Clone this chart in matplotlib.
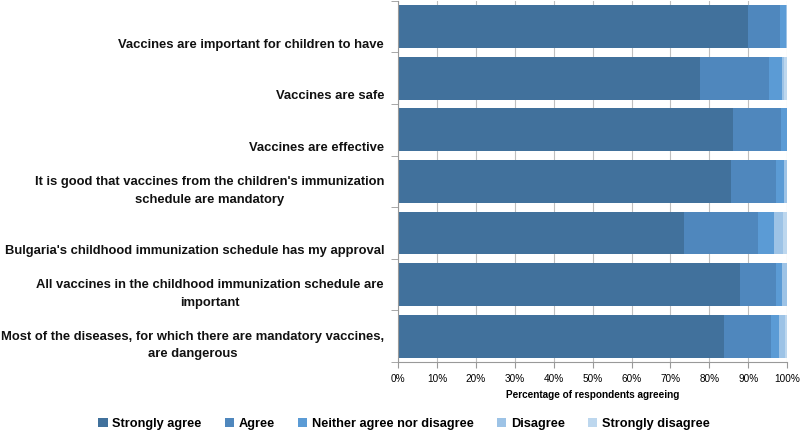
import numpy as np
import matplotlib.pyplot as plt

statements = [
    "Vaccines are important for children to have",
    "Vaccines are safe",
    "Vaccines are effective",
    "It is good that vaccines from the children's immunization\nschedule are mandatory",
    "Bulgaria's childhood immunization schedule has my approval",
    "All vaccines in the childhood immunization schedule are\nimportant",
    "Most of the diseases, for which there are mandatory vaccines,\nare dangerous",
]
responses = ["Strongly agree", "Agree", "Neither agree nor disagree", "Disagree", "Strongly disagree"]

strongly_agree = [90.0, 77.6, 86.0, 85.5, 73.5, 87.9, 83.8]
agree = [8.2, 17.8, 12.5, 11.5, 19.0, 9.3, 12.0]
neither = [1.5, 3.2, 1.5, 2.3, 4.2, 1.4, 2.2]
disagree = [0.3, 0.7, 0.0, 0.7, 2.2, 1.4, 1.5]
strongly_disagree = [0.0, 0.7, 0.0, 0.0, 1.1, 0.0, 0.5]

colors = ["#41719c", "#4f87bd", "#5b9bd5", "#9dc3e6", "#bdd7ee"]
fam = ["Liberation Sans", "DejaVu Sans"]

fig = plt.figure(figsize=(8, 4.33), dpi=100)
ax = fig.add_axes([0.4975, 0.164, 0.4865, 0.834])

series = [strongly_agree, agree, neither, disagree, strongly_disagree]
y = np.arange(len(statements))
left = np.zeros(len(statements))
for vals, col, name in zip(series, colors, responses):
    ax.barh(y, vals, left=left, height=0.83, color=col, label=name, zorder=2)
    left += np.array(vals)

ax.set_ylim(len(statements) - 0.5, -0.5)
ax.set_xlim(0, 100)
ax.set_xticks(np.arange(0, 101, 10))
ax.set_xticklabels([f"{v}%" for v in range(0, 101, 10)], fontsize=7.2, family=fam)

# category labels sit low in each band, like the original
ax.set_yticks([])
ax.set_yticks(np.arange(-0.5, len(statements), 1), minor=True)
ax.tick_params(axis="y", which="minor", length=5, color="#999999")
for yi, s in zip(y, statements):
    ax.annotate(s, xy=(0, yi + 0.47), xycoords=("axes fraction", "data"),
                xytext=(-10, 0), textcoords="offset points", ha="right", va="bottom",
                multialignment="center", linespacing=1.6, fontsize=9.4,
                fontweight="bold", color="#111111", family=fam)

ax.tick_params(axis="x", length=4, color="#999999", pad=5)
ax.grid(axis="x", color="#bfbfbf", linewidth=0.8, zorder=0)
for s in ["top", "right"]:
    ax.spines[s].set_visible(False)
ax.spines["bottom"].set_color("#999999")
ax.spines["left"].set_color("#999999")
ax.set_xlabel("Percentage of respondents agreeing", fontsize=7.2, fontweight="bold",
              family=fam, labelpad=4)

fig.legend(loc="center", bbox_to_anchor=(404 / 800, 1 - 424 / 433), ncol=5, frameon=False,
           handlelength=0.75, handleheight=0.75, columnspacing=1.8, handletextpad=0.35,
           prop={"size": 9.2, "weight": "bold", "family": fam})

fig.savefig("out.png", dpi=100)
